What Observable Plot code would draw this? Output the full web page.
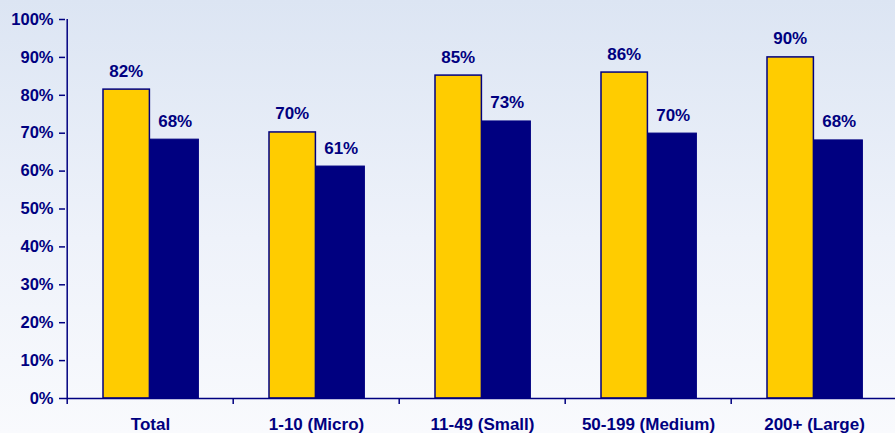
<!DOCTYPE html>
<html>
<head>
<meta charset="utf-8">
<script src="https://cdn.jsdelivr.net/npm/d3@7"></script>
<script src="https://cdn.jsdelivr.net/npm/@observablehq/plot@0.6"></script>
<style>
  html, body { margin: 0; padding: 0; }
  body { width: 895px; height: 433px; overflow: hidden;
         background: linear-gradient(to bottom, #dce5f3 0%, #eef2fa 55%, #f9fafd 100%); }
  #chart svg { background: transparent; display: block; }
</style>
</head>
<body>
<div id="chart"></div>
<script>
const categories = ["Total", "1-10 (Micro)", "11-49 (Small)", "50-199 (Medium)", "200+ (Large)"];
const seriesA = [81.5, 70.2, 85.2, 86.0, 90.0];   // yellow
const seriesB = [68.3, 61.2, 73.1, 69.9, 68.1];   // navy
const labelsA = ["82%", "70%", "85%", "86%", "90%"];
const labelsB = ["68%", "61%", "73%", "70%", "68%"];
const yTicks = [0, 10, 20, 30, 40, 50, 60, 70, 80, 90, 100];

const navy = "#000080";
const yellow = "#FFCC00";
const W = 895, H = 433;
const plotLeft = 65, plotRight = 898, plotTop = 19, plotBottom = 398;
const band = (plotRight - plotLeft) / categories.length;

const dataA = categories.map((c, i) => ({cat: c, v: seriesA[i], label: labelsA[i]}));
const dataB = categories.map((c, i) => ({cat: c, v: seriesB[i], label: labelsB[i]}));

const font = "Liberation Sans, Arial, sans-serif";

const chart = Plot.plot({
  width: W,
  height: H,
  marginLeft: plotLeft,
  marginRight: 0,
  marginTop: plotTop,
  marginBottom: H - plotBottom,
  style: {background: "transparent", fontFamily: font, color: navy},
  x: {domain: categories, range: [plotLeft, plotRight], padding: 0, axis: null},
  y: {domain: [0, 100], axis: null},
  marks: [
    Plot.barY(dataA, {x: "cat", y: "v", fill: yellow, stroke: navy, strokeWidth: 1.5,
      insetLeft: 36, insetRight: band - 83}),
    Plot.barY(dataB, {x: "cat", y: "v", fill: navy, stroke: navy, strokeWidth: 1,
      insetLeft: 83, insetRight: band - 132}),
    Plot.text(dataA, {x: "cat", y: "v", text: "label", dx: -band/2 + 59, dy: -13,
      lineAnchor: "bottom", fill: navy, fontSize: 17, fontWeight: "bold"}),
    Plot.text(dataB, {x: "cat", y: "v", text: "label", dx: -band/2 + 108, dy: -13,
      lineAnchor: "bottom", fill: navy, fontSize: 17, fontWeight: "bold"}),
    // y axis
    Plot.axisY({ticks: yTicks, tickFormat: d => d + "%", tickSize: 6, tickPadding: 6, label: null,
      stroke: navy, fill: navy, fontSize: 16.5, fontWeight: "bold", strokeWidth: 1.5}),
    Plot.ruleX([categories[0]], {x: d => d, dx: -band/2, stroke: navy, strokeWidth: 1.5}),
    // x axis
    Plot.ruleY([0], {stroke: navy, strokeWidth: 1.5}),
    Plot.ruleX(categories, {x: d => d, dx: -band/2, y1: 0, y2: 0, insetTop: 0, insetBottom: -6,
      stroke: navy, strokeWidth: 1.5}),
    Plot.text(categories, {x: d => d, y: 0, dy: 26, lineAnchor: "middle", text: d => d,
      fill: navy, fontSize: 17, fontWeight: "bold"})
  ]
});
document.getElementById("chart").appendChild(chart);
</script>
</body>
</html>
